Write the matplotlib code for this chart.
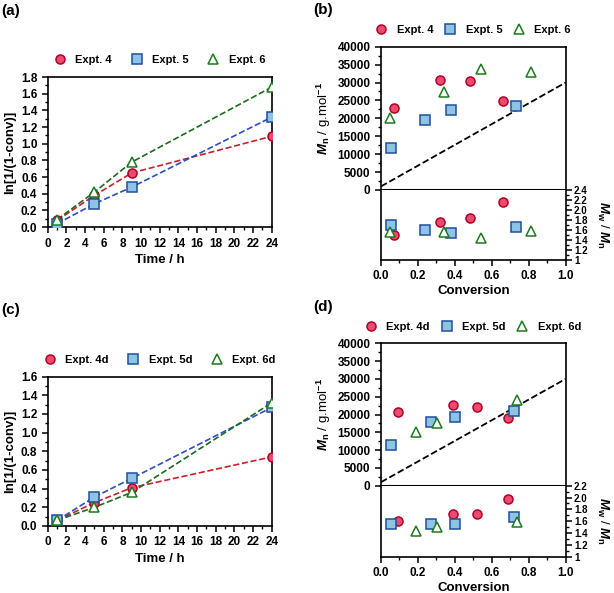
import matplotlib
matplotlib.use("Agg")
import matplotlib.pyplot as plt
from matplotlib.ticker import MultipleLocator

plt.rcParams['font.family'] = ['Liberation Sans', 'DejaVu Sans']
plt.rcParams['font.weight'] = 'bold'
plt.rcParams['mathtext.fontset'] = 'custom'
plt.rcParams['mathtext.rm'] = 'Liberation Sans:bold'
plt.rcParams['mathtext.it'] = 'Liberation Sans:bold:italic'
plt.rcParams['mathtext.bf'] = 'Liberation Sans:bold'
plt.rcParams['axes.linewidth'] = 1.2

# ---- data ----
time_h = [1, 5, 9, 24]

# (a) kinetics
ln_a4 = [0.08, 0.38, 0.65, 1.09]
ln_a5 = [0.04, 0.28, 0.48, 1.32]
ln_a6 = [0.09, 0.42, 0.78, 1.68]

# (b) Mn / dispersity vs conversion
conv_b4 = [0.07, 0.32, 0.48, 0.66]
mn_b4 = [22800, 30600, 30500, 24800]
d_b4 = [1.50, 1.75, 1.84, 2.16]
conv_b5 = [0.055, 0.24, 0.38, 0.73]
mn_b5 = [11800, 19400, 22200, 23400]
d_b5 = [1.69, 1.60, 1.54, 1.65]
conv_b6 = [0.05, 0.34, 0.54, 0.81]
mn_b6 = [20100, 27400, 33700, 33000]
d_b6 = [1.55, 1.56, 1.44, 1.57]

# (c) kinetics
ln_c4 = [0.06, 0.25, 0.41, 0.74]
ln_c5 = [0.06, 0.31, 0.51, 1.27]
ln_c6 = [0.06, 0.20, 0.36, 1.32]

# (d)
conv_d4 = [0.09, 0.39, 0.52, 0.685]
mn_d4 = [20700, 22600, 22200, 19100]
d_d4 = [1.60, 1.73, 1.73, 1.97]
conv_d5 = [0.055, 0.27, 0.40, 0.72]
mn_d5 = [11300, 17800, 19200, 21100]
d_d5 = [1.55, 1.56, 1.56, 1.67]
conv_d6 = [0.19, 0.305, 0.735]
mn_d6 = [15000, 17600, 24000]
d_d6 = [1.44, 1.51, 1.58]

theory_conv = [0.0, 1.0]
theory_mn = [1000, 30000]

names_top = ['Expt. 4', 'Expt. 5', 'Expt. 6']
names_bot = ['Expt. 4d', 'Expt. 5d', 'Expt. 6d']

# ---- styles ----
red_face, red_edge, red_line = '#ee4a6e', '#b0002a', '#c8202a'
blue_face, blue_edge, blue_line = '#8fc3e6', '#1f4f9a', '#2a4fc0'
green_face, green_edge, green_line = '#ffffff', '#1d7a1d', '#1d6a1d'
styles = [
    dict(marker='o', mfc=red_face, mec=red_edge, color=red_line),
    dict(marker='s', mfc=blue_face, mec=blue_edge, color=blue_line),
    dict(marker='^', mfc=green_face, mec=green_edge, color=green_line),
]
ms = 6.5
fs_tick = 8.5
fs_leg = 8
fs_label = 9.5

fig = plt.figure(figsize=(6.14, 5.93), dpi=100)


def kinetics(pos, series, names, ymax, label):
    ax = fig.add_axes(pos)
    for y, st, nm in zip(series, styles, names):
        ax.plot(time_h, y, ls='--', lw=1.2, color=st['color'], zorder=2)
        ax.plot(time_h, y, ls='none', marker=st['marker'], ms=ms, mfc=st['mfc'],
                mec=st['mec'], mew=1.1, label=nm, zorder=3)
    ax.set_xlim(0, 24)
    ax.set_ylim(0, ymax)
    ax.set_xticks(range(0, 25, 2))
    ax.xaxis.set_minor_locator(MultipleLocator(1))
    ax.yaxis.set_major_locator(MultipleLocator(0.2))
    ax.yaxis.set_minor_locator(MultipleLocator(0.1))
    ax.yaxis.set_major_formatter(matplotlib.ticker.FormatStrFormatter('%.1f'))
    ax.tick_params(labelsize=fs_tick, width=1.1, length=4)
    ax.tick_params(which='minor', width=1.0, length=2.5)
    ax.set_xlabel('Time / h', fontsize=fs_label, fontweight='bold', labelpad=3)
    ax.set_ylabel('ln[1/(1-conv)]', fontsize=fs_label, fontweight='bold', labelpad=3)
    ax.legend(loc='lower center', bbox_to_anchor=(0.5, 1.05), ncol=3, frameon=False,
              fontsize=fs_leg, handletextpad=0.9, columnspacing=1.7, handlelength=1,
              borderaxespad=0)
    fig.text(pos[0] - 0.075, pos[1] + pos[3] + 0.105, label, fontsize=11, fontweight='bold')
    return ax


def molar(pos_top, pos_bot, data, names, dmax, label):
    ax1 = fig.add_axes(pos_top)
    ax2 = fig.add_axes(pos_bot, sharex=ax1)
    ax1.plot(theory_conv, theory_mn, ls='--', color='black', lw=1.3, zorder=2)
    for (cx, mn, dd), st, nm in zip(data, styles, names):
        kw = dict(ls='none', marker=st['marker'], ms=ms, mfc=st['mfc'], mec=st['mec'],
                  mew=1.1, zorder=3)
        ax1.plot(cx, mn, label=nm, **kw)
        ax2.plot(cx, dd, **kw)
    ax1.set_xlim(0, 1)
    ax1.set_ylim(0, 40000)
    ax1.yaxis.set_major_locator(MultipleLocator(5000))
    ax1.yaxis.set_minor_locator(MultipleLocator(2500))
    ax1.tick_params(axis='x', bottom=False, labelbottom=False)
    ax1.tick_params(labelsize=fs_tick, width=1.1, length=4)
    ax1.tick_params(which='minor', width=1.0, length=2.5)
    ax1.set_ylabel(r'$M$$_\mathrm{n}$ / g.mol$^\mathrm{-1}$', fontsize=fs_label, labelpad=3)
    ax1.spines['bottom'].set_linewidth(1.5)

    ax2.set_ylim(1, dmax)
    ticks = [1 + 0.2 * i for i in range(int(round((dmax - 1) / 0.2)) + 1)]
    ax2.set_yticks(ticks, ['1'] + ['%.1f' % t for t in ticks[1:]])
    ax2.yaxis.set_minor_locator(MultipleLocator(0.1))
    ax2.yaxis.tick_right()
    ax2.yaxis.set_label_position('right')
    ax2.set_xticks([0, 0.2, 0.4, 0.6, 0.8, 1.0])
    ax2.xaxis.set_major_formatter(matplotlib.ticker.FormatStrFormatter('%.1f'))
    ax2.xaxis.set_minor_locator(MultipleLocator(0.1))
    ax2.tick_params(labelsize=fs_tick, width=1.1, length=4)
    ax2.tick_params(axis='y', labelsize=7, pad=2)
    ax2.tick_params(which='minor', width=1.0, length=2.5)
    ax2.spines['top'].set_visible(False)
    ax2.set_ylabel(r'$M$$_\mathrm{w}$ / $M$$_\mathrm{n}$', fontsize=fs_label,
                   rotation=270, va='bottom', labelpad=5)
    ax2.set_xlabel('Conversion', fontsize=fs_label, fontweight='bold', labelpad=2)
    ax1.legend(loc='lower center', bbox_to_anchor=(0.5, 1.05), ncol=3, frameon=False,
               fontsize=fs_leg, handletextpad=0.9, columnspacing=1.0, handlelength=1,
               borderaxespad=0)
    fig.text(pos_top[0] - 0.11, pos_top[1] + pos_top[3] + 0.055, label, fontsize=11,
             fontweight='bold')
    return ax1, ax2


kinetics([0.0777, 0.617, 0.365, 0.253], [ln_a4, ln_a5, ln_a6], names_top, 1.8, '(a)')
kinetics([0.0777, 0.113, 0.365, 0.252], [ln_c4, ln_c5, ln_c6], names_bot, 1.6, '(c)')

molar([0.6205, 0.6796, 0.3008, 0.2417], [0.6205, 0.5616, 0.3008, 0.118],
      [(conv_b4, mn_b4, d_b4), (conv_b5, mn_b5, d_b5), (conv_b6, mn_b6, d_b6)],
      names_top, 2.4, '(b)')
molar([0.6205, 0.1809, 0.3008, 0.2402], [0.6205, 0.0612, 0.3008, 0.1197],
      [(conv_d4, mn_d4, d_d4), (conv_d5, mn_d5, d_d5), (conv_d6, mn_d6, d_d6)],
      names_bot, 2.2, '(d)')

fig.savefig('out.png', dpi=100)
